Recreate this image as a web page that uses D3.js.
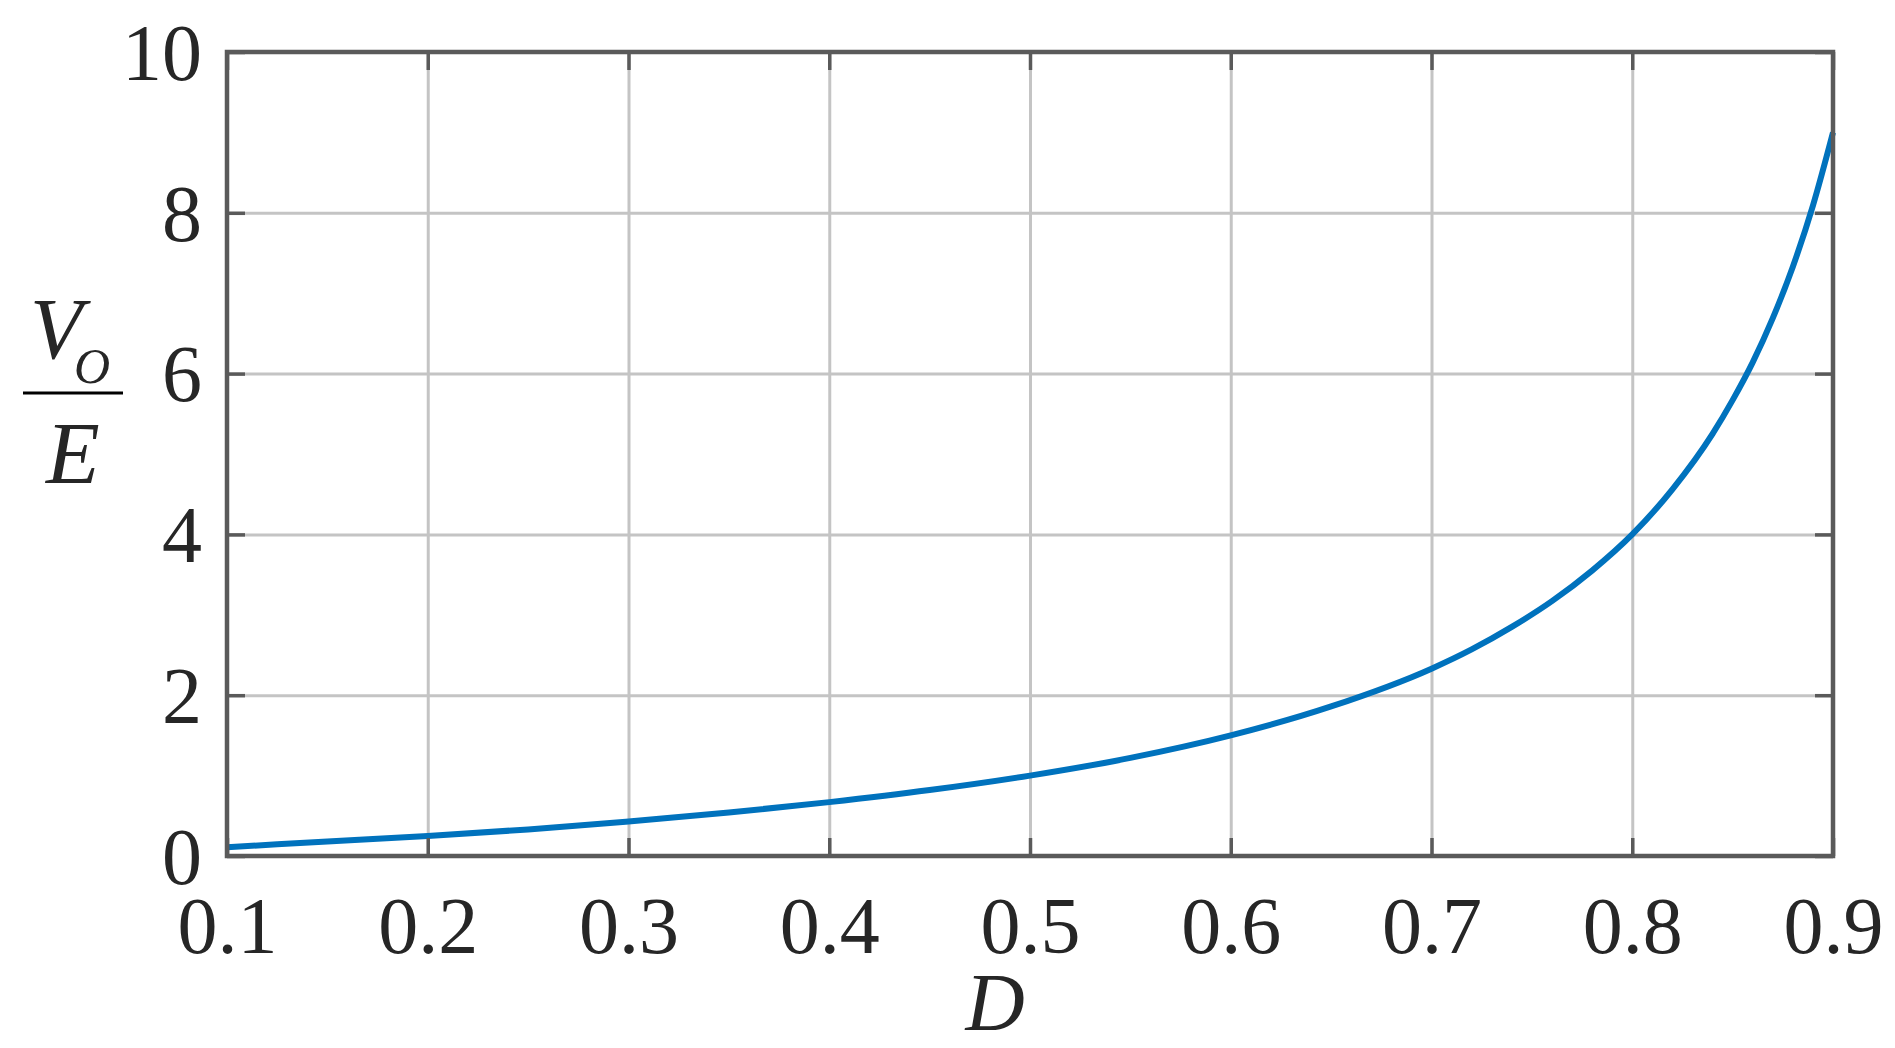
<!DOCTYPE html>
<html>
<head>
<meta charset="utf-8">
<script src="https://cdn.jsdelivr.net/npm/d3@7"></script>
<style>
  body { margin: 0; background: #fff; }
  text { font-family: "Liberation Serif", "Times New Roman", serif; fill: #262626; }
</style>
</head>
<body>
<div id="chart"></div>
<script>
// values
var dutyCycle = [0.10, 0.15, 0.20, 0.25, 0.30, 0.35, 0.40, 0.45, 0.50, 0.55, 0.60,
                 0.65, 0.70, 0.72, 0.74, 0.76, 0.78, 0.80, 0.82, 0.84, 0.85, 0.86,
                 0.87, 0.88, 0.89, 0.90];
var gain = [0.11, 0.18, 0.25, 0.33, 0.43, 0.54, 0.67, 0.82, 1.00, 1.22, 1.50,
            1.86, 2.33, 2.57, 2.85, 3.17, 3.55, 4.00, 4.56, 5.25, 5.67, 6.14,
            6.69, 7.33, 8.09, 9.00];
var xTicks = [0.1, 0.2, 0.3, 0.4, 0.5, 0.6, 0.7, 0.8, 0.9];
var yTicks = [0, 2, 4, 6, 8, 10];

var Width = 1895, Height = 1048;
var Left = 227, Right = 1833, Top = 52, Bottom = 856;
var TickLen = 18;
var AxisColor = "#5a5a5a", GridColor = "#c4c4c4";

var svg = d3.select("#chart").append("svg")
    .attr("width", Width)
    .attr("height", Height);

var x = d3.scaleLinear().domain([0.1, 0.9]).range([Left, Right]);
var y = d3.scaleLinear().domain([0, 10]).range([Bottom, Top]);

// grid lines
svg.append("g")
    .attr("transform", "translate(0," + Bottom + ")")
    .call(d3.axisBottom(x).tickValues(xTicks).tickSize(-(Bottom - Top)).tickFormat(""))
    .call(function(g) { g.select(".domain").remove(); })
    .selectAll("line").attr("stroke", GridColor).attr("stroke-width", 3);

svg.append("g")
    .attr("transform", "translate(" + Left + ",0)")
    .call(d3.axisLeft(y).tickValues(yTicks).tickSize(-(Right - Left)).tickFormat(""))
    .call(function(g) { g.select(".domain").remove(); })
    .selectAll("line").attr("stroke", GridColor).attr("stroke-width", 3);

// the curve
var pts = dutyCycle.map(function(d, i) { return [d, gain[i]]; });
svg.append("path")
    .datum(pts)
    .attr("fill", "none")
    .attr("stroke", "#0072bd")
    .attr("stroke-width", 6)
    .attr("d", d3.line()
        .x(function(d) { return x(d[0]); })
        .y(function(d) { return y(d[1]); })
        .curve(d3.curveMonotoneX));

// inward ticks on all four sides
function tickAxis(axis, tx, ty, labels) {
    var g = svg.append("g")
        .attr("transform", "translate(" + tx + "," + ty + ")")
        .call(axis.tickSizeInner(-TickLen).tickSizeOuter(0));
    g.select(".domain").remove();
    g.selectAll("line").attr("stroke", AxisColor).attr("stroke-width", 3.5);
    g.selectAll("text")
        .style("font-size", "80px")
        .attr("fill", "#262626");
    if (!labels) g.selectAll("text").remove();
    return g;
}

var bottomAxis = tickAxis(d3.axisBottom(x).tickValues(xTicks).tickFormat(d3.format(".1f")), 0, Bottom, true);
bottomAxis.selectAll("text").attr("y", 97).attr("dy", 0);
tickAxis(d3.axisTop(x).tickValues(xTicks), 0, Top, false);

var leftAxis = tickAxis(d3.axisLeft(y).tickValues(yTicks).tickFormat(d3.format("d")), Left, 0, true);
leftAxis.selectAll("text").attr("x", -25).attr("dy", "0.34em");
tickAxis(d3.axisRight(y).tickValues(yTicks), Right, 0, false);

// box
svg.append("rect")
    .attr("x", Left).attr("y", Top)
    .attr("width", Right - Left).attr("height", Bottom - Top)
    .attr("fill", "none")
    .attr("stroke", AxisColor)
    .attr("stroke-width", 4.5);

// x label
svg.append("text")
    .attr("x", 995).attr("y", 1030)
    .attr("text-anchor", "middle")
    .style("font-size", "82px")
    .style("font-style", "italic")
    .attr("fill", "#000")
    .text("D");

// y label as a fraction V_O / E
var yl = svg.append("g");
yl.append("text")
    .attr("x", 30).attr("y", 358)
    .style("font-size", "86px").style("font-style", "italic")
    .attr("fill", "#000")
    .text("V");
yl.append("text")
    .attr("x", 74).attr("y", 383)
    .style("font-size", "50px").style("font-style", "italic")
    .attr("fill", "#000")
    .text("O");
yl.append("line")
    .attr("x1", 23).attr("x2", 123)
    .attr("y1", 393).attr("y2", 393)
    .attr("stroke", "#000").attr("stroke-width", 3);
yl.append("text")
    .attr("x", 73).attr("y", 483)
    .attr("text-anchor", "middle")
    .style("font-size", "88px").style("font-style", "italic")
    .attr("fill", "#000")
    .text("E");
</script>
</body>
</html>
